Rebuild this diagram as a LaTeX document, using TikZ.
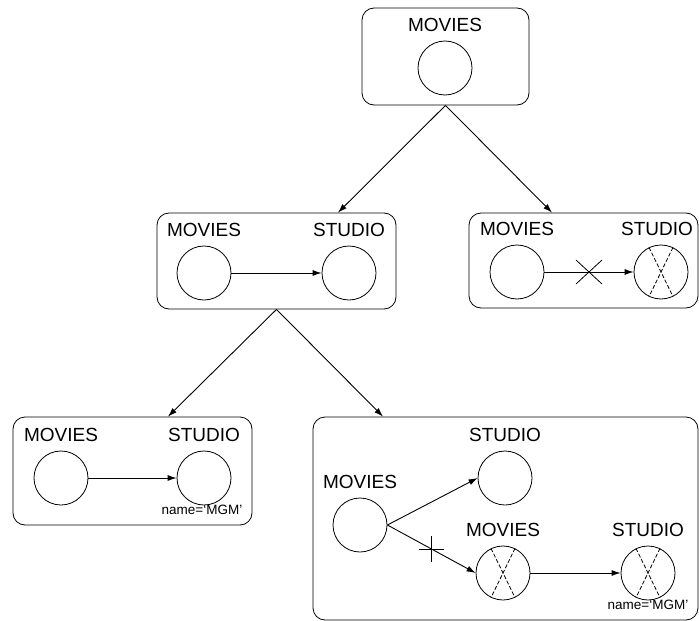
\documentclass[tikz,border=0pt]{standalone}
\usepackage{fontspec}
\setmainfont{Liberation Sans}
\usetikzlibrary{positioning, arrows.meta, shapes.misc}

\begin{document}
\begin{tikzpicture}[
  x=1pt, y=-1pt,
  grp/.style={rectangle, draw, line width=0.8pt, rounded corners=12pt, inner sep=0pt},
  ent/.style={circle, draw, line width=0.8pt, minimum size=54pt, inner sep=0pt},
  lab/.style={inner sep=0pt, font=\fontsize{19}{22}\selectfont},
  cond/.style={inner sep=0pt, font=\fontsize{13.5}{16}\selectfont},
  line/.style={draw, line width=0.9pt},
  arr/.style={line, -{Latex[length=9pt,width=6pt]}},
  nope/.style={cross out, draw, line width=0.8pt, inner sep=0pt, minimum width=25pt, minimum height=23pt},
  cut/.style={cross out, draw, line width=0.8pt, inner sep=0pt, minimum size=17pt, rotate=45},
  gone/.style={draw, line width=0.8pt, dash pattern=on 4pt off 2pt}
]

\useasboundingbox (0,0) rectangle (699,621);

% Groups
\node[grp, minimum width=167pt, minimum height=97pt] (g0) at (445.5,56.5) {};
\node[grp, minimum width=239pt, minimum height=96pt] (g1) at (276.5,261) {};
\node[grp, minimum width=229pt, minimum height=95pt] (g2) at (583.5,260.5) {};
\node[grp, minimum width=239pt, minimum height=108pt] (g3) at (132.5,471) {};
\node[grp, minimum width=385pt, minimum height=203pt] (g4) at (505.5,518.5) {};

% Top group
\node[ent] (m0) at (445,68) {};
\node[lab, above=9pt of m0] (t0) {MOVIES};

% Middle left group
\node[ent] (m1) at (204,273) {};
\node[ent] (s1) at (349,273) {};
\node[lab, above=9pt of m1] (tm1) {MOVIES};
\node[lab, above=9pt of s1] (ts1) {STUDIO};
\draw[arr] (m1.east) -- (s1.west);

% Middle right group
\node[ent] (m2) at (517,272) {};
\node[ent] (s2) at (661,272) {};
\node[lab, above=9pt of m2] (tm2) {MOVIES};
\node[lab, above=9pt of s2, xshift=-4pt] (ts2) {STUDIO};
\draw[arr] (m2.east) -- node[nope] (n2) {} (s2.west);
\draw[gone] (s2.116) -- (s2.-64);
\draw[gone] (s2.64) -- (s2.-116);

% Bottom left group
\node[ent] (m3) at (61,478) {};
\node[ent] (s3) at (204,478) {};
\node[lab, above=9pt of m3] (tm3) {MOVIES};
\node[lab, above=9pt of s3] (ts3) {STUDIO};
\node[cond, below=-1pt of s3, xshift=-2pt] (c3) {name=`MGM'};
\draw[arr] (m3.east) -- (s3.west);

% Bottom right group
\node[ent] (m4) at (360,525) {};
\node[ent] (s4) at (505,478) {};
\node[ent] (m5) at (503,573) {};
\node[ent] (s5) at (648,573) {};
\node[lab, above=9pt of m4] (tm4) {MOVIES};
\node[lab, above=9pt of s4] (ts4) {STUDIO};
\node[lab, above=9pt of m5] (tm5) {MOVIES};
\node[lab, above=9pt of s5] (ts5) {STUDIO};
\node[cond, below=-1pt of s5] (c5) {name=`MGM'};
\draw[arr] (m4.east) -- (s4.west);
\draw[arr] (m4.east) -- node[cut] (p4) {} (m5.west);
\draw[arr] (m5.east) -- (s5.west);
\draw[gone] (m5.116) -- (m5.-64);
\draw[gone] (m5.64) -- (m5.-116);
\draw[gone] (s5.116) -- (s5.-64);
\draw[gone] (s5.64) -- (s5.-116);

% Refinement arrows
\draw[arr] (g0.south) -- ([xshift=61.5pt]g1.north);
\draw[arr] (g0.south) -- ([xshift=-31.5pt]g2.north);
\draw[arr] (g1.south) -- ([xshift=35.5pt]g3.north);
\draw[arr] (g1.south) -- ([xshift=-122.5pt]g4.north);

\end{tikzpicture}
\end{document}
